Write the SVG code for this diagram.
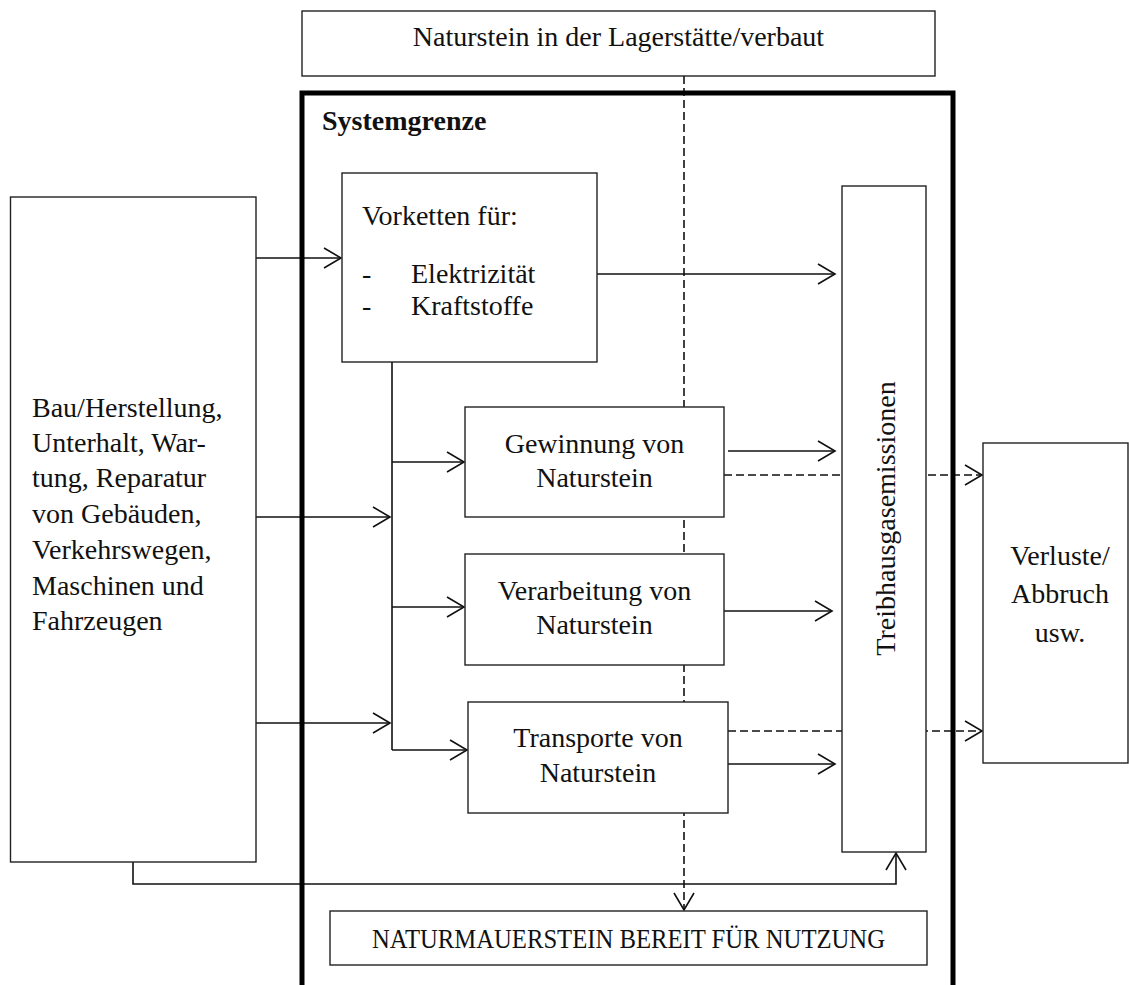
<svg xmlns="http://www.w3.org/2000/svg" width="1129" height="985" viewBox="0 0 1129 985">
<defs>
<style>
.box{fill:#fff;stroke:#222;stroke-width:1.4}
.t{font-family:"Liberation Serif","Times New Roman",serif;font-size:28px;fill:#111}
.c{text-anchor:middle}
.ln{fill:none;stroke:#111;stroke-width:1.6}
.ds{fill:none;stroke:#111;stroke-width:1.6;stroke-dasharray:8 4}
.arr{marker-end:url(#ah)}
</style>
<marker id="ah" markerUnits="userSpaceOnUse" markerWidth="24" markerHeight="24" viewBox="-20 -12 24 24" refX="0" refY="0" orient="auto" overflow="visible">
<path d="M-17,-10 L0,0 L-17,10" fill="none" stroke="#111" stroke-width="1.6"/>
</marker>
</defs>
<rect width="1129" height="985" fill="#fff"/>

<g id="connectors">
<path class="ds arr" d="M684,76 V910"/>
<path class="ds arr" d="M724,475 H982"/>
<path class="ds arr" d="M728,731 H982"/>
<path class="ln arr" d="M256,258 H341"/>
<path class="ln arr" d="M256,517 H390"/>
<path class="ln arr" d="M256,723 H390"/>
<path class="ln" d="M392,362 V750"/>
<path class="ln arr" d="M392,462 H464"/>
<path class="ln arr" d="M392,607 H464"/>
<path class="ln arr" d="M392,750 H467"/>
<path class="ln arr" d="M597,274 H835"/>
<path class="ln arr" d="M728,451 H835"/>
<path class="ln arr" d="M724,611 H832"/>
<path class="ln arr" d="M728,764 H835"/>
<path class="ln arr" d="M133,862 V884 H896 V853"/>
</g>

<g id="systemgrenze">
<path d="M302,985 V93 H953 V985" fill="none" stroke="#000" stroke-width="5"/>
<text class="t" x="322" y="130" font-weight="bold">Systemgrenze</text>
</g>

<g id="lagerstaette">
<rect class="box" x="302" y="11" width="633" height="65"/>
<text class="t c" x="618.5" y="46">Naturstein in der Lagerstätte/verbaut</text>
</g>

<g id="einfluss">
<rect class="box" x="10.5" y="197" width="245.5" height="665"/>
<text class="t" x="32" y="417">Bau/Herstellung,</text>
<text class="t" x="32" y="452">Unterhalt, War-</text>
<text class="t" x="32" y="487">tung, Reparatur</text>
<text class="t" x="32" y="523">von Gebäuden,</text>
<text class="t" x="32" y="559">Verkehrswegen,</text>
<text class="t" x="32" y="595">Maschinen und</text>
<text class="t" x="32" y="630">Fahrzeugen</text>
</g>

<g id="vorketten">
<rect class="box" x="342" y="173" width="255" height="189"/>
<text class="t" x="362" y="225">Vorketten für:</text>
<text class="t" x="362" y="283">-</text>
<text class="t" x="411" y="283">Elektrizität</text>
<text class="t" x="362" y="315">-</text>
<text class="t" x="411" y="315">Kraftstoffe</text>
</g>

<g id="gewinnung">
<rect class="box" x="465" y="407" width="259" height="110"/>
<text class="t c" x="594.5" y="453">Gewinnung von</text>
<text class="t c" x="594.5" y="487">Naturstein</text>
</g>

<g id="verarbeitung">
<rect class="box" x="465" y="554" width="259" height="111"/>
<text class="t c" x="594.5" y="600">Verarbeitung von</text>
<text class="t c" x="594.5" y="634">Naturstein</text>
</g>

<g id="transporte">
<rect class="box" x="468" y="702" width="260" height="111"/>
<text class="t c" x="598" y="747">Transporte von</text>
<text class="t c" x="598" y="782">Naturstein</text>
</g>

<g id="treibhaus">
<rect class="box" x="842" y="186" width="84" height="666"/>
<text class="t c" transform="translate(895,518.5) rotate(-90)" x="0" y="0">Treibhausgasemissionen</text>
</g>

<g id="verluste">
<rect class="box" x="983" y="443" width="145" height="320"/>
<text class="t c" x="1060" y="565">Verluste/</text>
<text class="t c" x="1060" y="603">Abbruch</text>
<text class="t c" x="1060" y="642">usw.</text>
</g>

<g id="naturmauerstein">
<rect class="box" x="330" y="911" width="597" height="54"/>
<text class="t c" x="628.5" y="948" font-size="26" textLength="513" lengthAdjust="spacingAndGlyphs">NATURMAUERSTEIN BEREIT FÜR NUTZUNG</text>
</g>
</svg>
